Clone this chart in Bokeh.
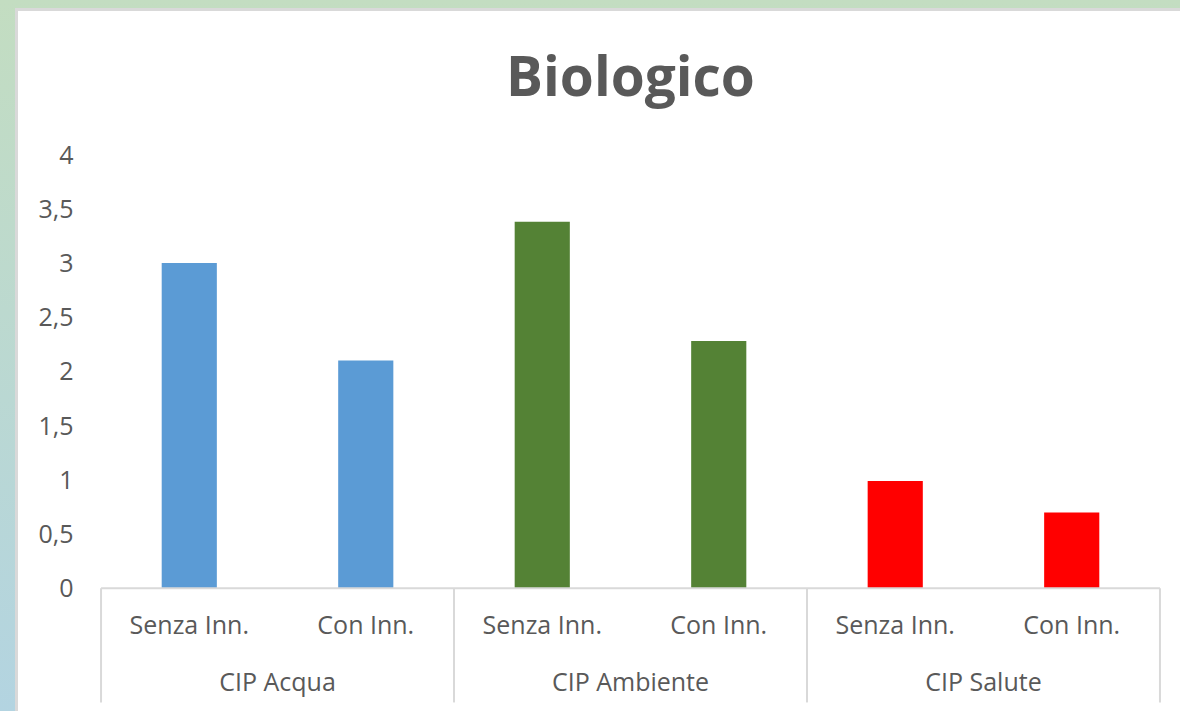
from bokeh.plotting import figure
from bokeh.models import (FactorRange, ColumnDataSource, FixedTicker,
                          CustomJSTickFormatter, Range1d, GlobalInlineStyleSheet)
from bokeh.core.properties import value
from bokeh.embed import file_html
from bokeh.resources import INLINE

# ---------------- data ----------------
title_text = "Biologico"
groups = ["CIP Acqua", "CIP Ambiente", "CIP Salute"]
subs = ["Senza Inn.", "Con Inn."]
values_acqua = [3.0, 2.1]
values_ambiente = [3.38, 2.28]
values_salute = [0.99, 0.7]
group_colors = ["#5B9BD5", "#548235", "#FF0000"]
y_ticks = [0, 0.5, 1, 1.5, 2, 2.5, 3, 3.5, 4]

# ---------------- layout constants ----------------
MARGIN_L, MARGIN_T, BORDER = 15, 8, 3
FIG_LEFT, FIG_TOP = MARGIN_L + BORDER, MARGIN_T + BORDER
FIG_W, FIG_H = 1180 - MARGIN_L, 711 - MARGIN_T      # border-box sizes
FRAME_LEFT, FRAME_RIGHT, FRAME_TOP = 97, 1160, 120
ZERO_PX, PX_PER_UNIT = 585.5, 107.9

y_end = (ZERO_PX - FRAME_TOP) / PX_PER_UNIT
y_start = (ZERO_PX - 711) / PX_PER_UNIT
sub_label_y = (ZERO_PX - 621) / PX_PER_UNIT
group_label_y = (ZERO_PX - 678) / PX_PER_UNIT
sep_bottom = (ZERO_PX - 699) / PX_PER_UNIT

factors = [(g, s) for g in groups for s in subs]
vals = values_acqua + values_ambiente + values_salute
bar_colors = [c for c in group_colors for _ in subs]

TEXT = "#595959"
LINE = "#D9D9D9"
FONT = "Open Sans"

page_css = GlobalInlineStyleSheet(css="""
html { background: linear-gradient(#c3ddc1, #b3d4e1) fixed; overflow: hidden; }
body { background: transparent; margin: 0; }
""")

x_range = FactorRange(factors=factors, group_padding=0, factor_padding=0,
                      range_padding=0.02, range_padding_units="absolute")

p = figure(x_range=x_range, y_range=Range1d(y_start, y_end),
           width=FIG_W, height=FIG_H, output_backend="svg",
           toolbar_location=None, x_axis_location=None,
           min_border_left=FRAME_LEFT - FIG_LEFT,
           min_border_right=1180 - FRAME_RIGHT,
           min_border_top=FRAME_TOP - FIG_TOP, min_border_bottom=0,
           background_fill_color="white", border_fill_color="white",
           outline_line_color=None,
           styles={"margin-left": f"{MARGIN_L}px", "margin-top": f"{MARGIN_T}px",
                   "border-left": f"{BORDER}px solid {LINE}",
                   "border-top": f"{BORDER}px solid {LINE}",
                   "background": "white"},
           stylesheets=[page_css])

p.title.text = title_text
p.title.align = "center"
p.title.text_font = FONT
p.title.text_font_size = "55px"
p.title.text_font_style = "bold"
p.title.text_color = TEXT
p.title.standoff = 18

p.xgrid.visible = False
p.ygrid.visible = False

# bars
src = ColumnDataSource(dict(x=factors, top=vals, color=bar_colors))
p.vbar(x="x", top="top", width=0.3125, source=src, fill_color="color",
       line_color=None)

# category axis lines (baseline + separators)
sep_x = [(g, subs[0], -0.5) for g in groups] + [(groups[-1], subs[-1], 0.5)]
p.segment(x0=sep_x, x1=sep_x, y0=[0] * len(sep_x), y1=[sep_bottom] * len(sep_x),
          line_color=LINE, line_width=2)
p.segment(x0=[sep_x[0]], x1=[sep_x[-1]], y0=[0], y1=[0],
          line_color=LINE, line_width=2)

# category labels
p.text(x=factors, y=[sub_label_y] * len(factors), text=[s for _ in groups for s in subs],
       text_align="center", text_baseline="alphabetic",
       text_font=value(FONT), text_font_size="25px", text_color=TEXT)
grp_x = [(g, subs[0], 0.5) for g in groups]
p.text(x=grp_x, y=[group_label_y] * len(groups), text=groups,
       text_align="center", text_baseline="alphabetic",
       text_font=value(FONT), text_font_size="25px", text_color=TEXT)

# y axis
p.yaxis.ticker = FixedTicker(ticks=y_ticks)
p.yaxis.formatter = CustomJSTickFormatter(code="return tick.toString().replace('.', ',');")
p.yaxis.axis_line_color = None
p.yaxis.major_tick_line_color = None
p.yaxis.minor_tick_line_color = None
p.yaxis.major_label_text_font = FONT
p.yaxis.major_label_text_font_size = "25px"
p.yaxis.major_label_text_color = TEXT
p.yaxis.major_label_standoff = 18

open("out.html", "w").write(file_html(p, INLINE))
